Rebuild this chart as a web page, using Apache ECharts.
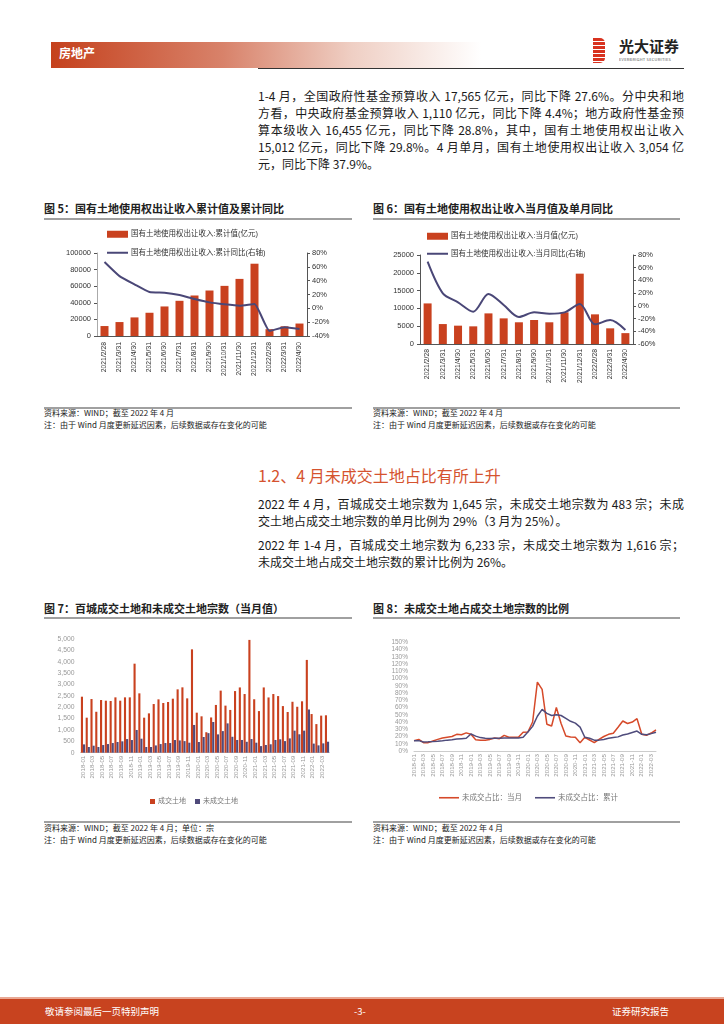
<!DOCTYPE html>
<html><head><meta charset="utf-8">
<script src="https://cdn.jsdelivr.net/npm/echarts@6/dist/echarts.min.js"></script>
<style>
html,body{margin:0;padding:0;background:#fff;}
body{width:724px;height:1024px;position:relative;overflow:hidden;font-family:"Noto Sans CJK SC","Liberation Sans",sans-serif;color:#1a1a1a;}
.abs{position:absolute;white-space:nowrap;}
.para{position:absolute;left:258px;width:426px;font-size:12px;}
.para div{height:17px;line-height:17px;white-space:nowrap;}
.j{text-align:justify;text-align-last:justify;}
.ctitle{position:absolute;font-size:11px;font-weight:bold;color:#222;line-height:12px;white-space:nowrap;}
.gline{position:absolute;height:2px;background:#a0a0a0;}
.src{position:absolute;font-size:8px;line-height:10px;color:#222;white-space:nowrap;}
#chart{position:absolute;left:0;top:0;width:724px;height:1024px;z-index:1;}
</style></head>
<body>
<div class="abs" style="left:51px;top:42px;width:430px;height:26px;background:linear-gradient(to right,#c5411d 0%,#d8826a 40%,#efcfc4 70%,#ffffff 100%);"></div>
<div class="abs" style="left:59px;top:45px;font-size:12px;line-height:16px;font-weight:bold;color:#fff;">房地产</div>
<div class="abs" style="left:593px;top:38px;width:12px;height:25px;background:repeating-linear-gradient(to bottom,#d8321f 0px,#d8321f 3px,#fff 3px,#fff 4px);border-radius:0 5px 5px 0;"></div>
<div class="abs" style="left:619px;top:37px;font-size:15px;line-height:18px;font-weight:bold;color:#222;">光大证券</div>
<div class="abs" style="left:619px;top:57px;font-size:8px;line-height:8px;color:#555;transform:scale(0.5);transform-origin:0 0;letter-spacing:0.5px;">EVERBRIGHT SECURITIES</div>
<div class="abs" style="left:258px;top:67.5px;width:426px;height:1.5px;background:#333;"></div>

<div class="para" style="top:86.5px;">
<div class="j">1-4 月，全国政府性基金预算收入 17,565 亿元，同比下降 27.6%。分中央和地</div>
<div class="j">方看，中央政府基金预算收入 1,110 亿元，同比下降 4.4%；地方政府性基金预</div>
<div class="j">算本级收入 16,455 亿元，同比下降 28.8%，其中，国有土地使用权出让收入</div>
<div class="j">15,012 亿元，同比下降 29.8%。4 月单月，国有土地使用权出让收入 3,054 亿</div>
<div>元，同比下降 37.9%。</div>
</div>

<div class="ctitle" style="left:44px;top:202px;">图 5：国有土地使用权出让收入累计值及累计同比</div>
<div class="gline" style="left:44px;top:218px;width:308px;"></div>
<div class="ctitle" style="left:373px;top:202px;">图 6：国有土地使用权出让收入当月值及单月同比</div>
<div class="gline" style="left:373px;top:218px;width:307px;"></div>

<div class="gline" style="left:44px;top:407px;width:308px;"></div>
<div class="src" style="left:44px;top:408px;">资料来源：WIND；截至 2022 年 4 月</div>
<div class="src" style="left:44px;top:420px;">注：由于 Wind 月度更新延迟因素，后续数据或存在变化的可能</div>
<div class="gline" style="left:373px;top:407px;width:307px;"></div>
<div class="src" style="left:373px;top:408px;">资料来源：WIND；截至 2022 年 4 月</div>
<div class="src" style="left:373px;top:420px;">注：由于 Wind 月度更新延迟因素，后续数据或存在变化的可能</div>

<div class="abs" style="left:258px;top:465px;font-size:16px;line-height:20px;color:#d5532f;">1.2、4 月未成交土地占比有所上升</div>
<div class="para" style="top:494.5px;">
<div class="j">2022 年 4 月，百城成交土地宗数为 1,645 宗，未成交土地宗数为 483 宗；未成</div>
<div>交土地占成交土地宗数的单月比例为 29%（3 月为 25%）。</div>
</div>
<div class="para" style="top:535.5px;">
<div class="j">2022 年 1-4 月，百城成交土地宗数为 6,233 宗，未成交土地宗数为 1,616 宗；</div>
<div>未成交土地占成交土地宗数的累计比例为 26%。</div>
</div>

<div class="ctitle" style="left:44px;top:602px;">图 7：百城成交土地和未成交土地宗数（当月值）</div>
<div class="gline" style="left:44px;top:617px;width:308px;"></div>
<div class="ctitle" style="left:373px;top:602px;">图 8：未成交土地占成交土地宗数的比例</div>
<div class="gline" style="left:373px;top:617px;width:307px;"></div>

<div class="gline" style="left:44px;top:821px;width:308px;"></div>
<div class="src" style="left:44px;top:823px;">资料来源：WIND；截至 2022 年 4 月；单位：宗</div>
<div class="src" style="left:44px;top:835px;">注：由于 Wind 月度更新延迟因素，后续数据或存在变化的可能</div>
<div class="gline" style="left:373px;top:821px;width:307px;"></div>
<div class="src" style="left:373px;top:823px;">资料来源：WIND；截至 2022 年 4 月</div>
<div class="src" style="left:373px;top:835px;">注：由于 Wind 月度更新延迟因素，后续数据或存在变化的可能</div>

<div class="abs" style="left:0;top:997px;width:724px;height:2px;background:#e9a894;"></div>
<div class="abs" style="left:0;top:999px;width:724px;height:25px;background:#c8431f;"></div>
<div class="abs" style="left:45px;top:1004px;font-size:9.5px;line-height:14px;color:#fff;">敬请参阅最后一页特别声明</div>
<div class="abs" style="left:354px;top:1004px;font-size:9.5px;line-height:14px;color:#fff;">-3-</div>
<div class="abs" style="left:612px;top:1004px;font-size:9.5px;line-height:14px;color:#fff;">证券研究报告</div>

<div id="chart"></div>
<script>
// ---------- data ----------
const cat5 = ['2021/2/28','2021/3/31','2021/4/30','2021/5/31','2021/6/30','2021/7/31','2021/8/31','2021/9/30','2021/10/31','2021/11/30','2021/12/31','2022/2/28','2022/3/31','2022/4/30'];
const cumValue = [12000,16800,22400,28000,35600,42400,48800,54800,60400,68800,87100,8200,11700,15012];
const cumYoY = [67,46.6,34.6,23.5,22.6,19.2,13.4,8.6,5.8,3.8,6.2,-32.6,-27.4,-29.8];

const cat6 = ['2021/2/28','2021/3/31','2021/4/30','2021/5/31','2021/6/30','2021/7/31','2021/8/31','2021/9/30','2021/10/31','2021/11/30','2021/12/31','2022/2/28','2022/3/31','2022/4/30'];
const monValue = [11400,5600,5150,4960,8600,7200,6100,6740,6100,8900,19760,8330,4400,3054];
const monYoY = [69.5,19.7,5.6,-9.1,18.7,1.4,-17.5,-10.2,-12.3,-10.2,2.9,-29.1,-22.3,-37.9];

const months = [
 '2018-01','2018-02','2018-03','2018-04','2018-05','2018-06','2018-07','2018-08','2018-09','2018-10','2018-11','2018-12',
 '2019-01','2019-02','2019-03','2019-04','2019-05','2019-06','2019-07','2019-08','2019-09','2019-10','2019-11','2019-12',
 '2020-01','2020-02','2020-03','2020-04','2020-05','2020-06','2020-07','2020-08','2020-09','2020-10','2020-11','2020-12',
 '2021-01','2021-02','2021-03','2021-04','2021-05','2021-06','2021-07','2021-08','2021-09','2021-10','2021-11','2021-12',
 '2022-01','2022-02','2022-03','2022-04'];
const dealLand = [
 2463,1540,2360,1800,2317,2287,2273,2434,2287,2434,2434,3915,
 2610,1540,1730,2140,2346,2185,2230,2375,2786,2874,2390,4545,
 1760,1600,900,1550,2100,2730,2070,1880,2710,2870,2580,4960,
 2350,1830,2870,2430,2580,2490,2050,1790,2240,2020,2260,4080,
 1700,1258,1630,1645];
const unsoldLand = [
 366,250,308,250,337,380,425,470,500,600,557,1000,
 616,250,250,320,380,425,425,557,540,510,440,1220,
 470,690,860,1350,806,950,1290,700,560,560,480,600,
 440,290,340,370,560,590,510,630,970,810,970,1900,
 400,323,410,483];
const ratioMonth = [
 14.3,16,11.5,11.5,13.8,16,18,19,20,23,22.5,25,
 23,15.6,14.7,14.7,16,18,17,21.6,19,19,19,25.8,
 26.2,40,95,85,37,34.5,60,38,20.7,19.3,18.9,11.5,
 18.9,15.2,11.5,16,20,23,24.4,32.7,41.4,38,40,44.6,
 23,21.6,24.8,29];
const ratioCum = [
 14,14.3,12.4,12.6,13,13.5,14.2,15,15.6,16.5,17,17.5,
 23.5,20.5,18.5,17.5,17.3,17.5,17.5,18,18,18,18,19,
 26.2,34,48,57.5,52,49,50,49,45,41,38.5,33,
 18.9,17.5,15,15,16,17.5,18.5,19.5,22,23.5,25.5,27.5,
 23,22.5,24,26];

const n5a='国有土地使用权出让收入:累计值(亿元)', n5b='国有土地使用权出让收入:累计同比(右轴)';
const n6a='国有土地使用权出让收入:当月值(亿元)', n6b='国有土地使用权出让收入:当月同比(右轴)';
const n7a='成交土地', n7b='未成交土地';
const n8a='未成交占比：当月', n8b='未成交占比：累计';

// ---------- styles ----------
const RED='#c9411f', NAVY='#4a4777', RED8='#d64a2a', NAVY8='#4f4c7c';
const FONT='"Liberation Sans","Noto Sans CJK SC",sans-serif';
const lab = (extra)=>Object.assign({fontSize:7,color:'#333',fontFamily:FONT},extra||{});
const plain = v => String(v);
const fmtThousand = v => v.toLocaleString('en-US');

const chart = echarts.init(document.getElementById('chart'), null, {renderer:'canvas'});

function leg(name, left, top, w, h, fs, color){
  return {left:left, top:top, itemWidth:w, itemHeight:h, padding:0, itemGap:0,
    textStyle:{fontSize:fs,color:color,padding:[0,0,0,-2]}, data:[{name:name,icon:'rect'}]};
}

chart.setOption({
  animation:false,
  textStyle:{fontFamily:FONT},
  grid:[
    {left:97, top:253, width:210, height:83},
    {left:420, top:255, width:213, height:89},
    {left:80.6, top:639, width:248.8, height:113.7},
    {left:414, top:642.3, width:242, height:108.7}
  ],
  legend:[
    leg(n5a,107,230.5,21,7,7.5,'#333'),
    leg(n5b,107,249,21,2,7.5,'#333'),
    leg(n6a,427,232.5,21,7,7.5,'#333'),
    leg(n6b,427,250,21,2,7.5,'#333'),
    leg(n7a,150,798,5,5,7,'#777'),
    leg(n7b,195,798,5,5,7,'#777'),
    leg(n8a,439,794,20,1.6,7.5,'#777'),
    leg(n8b,535,794,20,1.6,7.5,'#777')
  ],
  xAxis:[
    {gridIndex:0, type:'category', data:cat5, axisLine:{lineStyle:{color:'#555'}},
     axisTick:{length:3,lineStyle:{color:'#555'}}, axisLabel:lab({rotate:90,interval:0,margin:6,fontSize:6.8})},
    {gridIndex:1, type:'category', data:cat6, axisLine:{lineStyle:{color:'#555'}},
     axisTick:{length:3,lineStyle:{color:'#555'}}, axisLabel:lab({rotate:90,interval:0,margin:5,fontSize:6.8})},
    {gridIndex:2, type:'category', data:months, axisLine:{lineStyle:{color:'#ccc'}},
     axisTick:{show:false}, axisLabel:lab({rotate:90,interval:1,margin:3,fontSize:6.2,color:'#999'})},
    {gridIndex:3, type:'category', data:months, boundaryGap:false, axisLine:{lineStyle:{color:'#ccc'}},
     axisTick:{show:false}, axisLabel:lab({rotate:90,interval:1,margin:3,fontSize:6.2,color:'#999'})}
  ],
  yAxis:[
    {gridIndex:0, type:'value', min:0, max:100000, interval:20000, splitLine:{show:false},
     axisLine:{show:true,lineStyle:{color:'#aaa'}}, axisTick:{show:true,length:3,lineStyle:{color:'#555'}},
     axisLabel:lab({fontSize:7.5,margin:6,formatter:plain})},
    {gridIndex:0, type:'value', position:'right', min:-40, max:80, interval:20, splitLine:{show:false},
     axisLine:{show:true,lineStyle:{color:'#555'}}, axisTick:{show:true,length:3,lineStyle:{color:'#555'}},
     axisLabel:lab({fontSize:7.5,margin:5,formatter:'{value}%'})},
    {gridIndex:1, type:'value', min:0, max:25000, interval:5000, splitLine:{show:false},
     axisLine:{show:true,lineStyle:{color:'#555'}}, axisTick:{show:true,length:3,lineStyle:{color:'#555'}},
     axisLabel:lab({fontSize:7.5,margin:6,formatter:plain})},
    {gridIndex:1, type:'value', position:'right', min:-60, max:80, interval:20, splitLine:{show:false},
     axisLine:{show:true,lineStyle:{color:'#555'}}, axisTick:{show:true,length:3,lineStyle:{color:'#555'}},
     axisLabel:lab({fontSize:7.5,margin:5,formatter:'{value}%'})},
    {gridIndex:2, type:'value', min:0, max:5000, interval:500, splitLine:{show:false},
     axisLine:{show:false}, axisTick:{show:false},
     axisLabel:lab({fontSize:6.8,color:'#999',margin:6,formatter:fmtThousand})},
    {gridIndex:3, type:'value', min:0, max:150, interval:10, splitLine:{show:false},
     axisLine:{show:false}, axisTick:{show:false},
     axisLabel:lab({fontSize:6.5,color:'#999',margin:6,formatter:'{value}%'})}
  ],
  series:[
    {name:n5a, type:'bar', xAxisIndex:0, yAxisIndex:0, data:cumValue, barWidth:8, itemStyle:{color:RED}},
    {name:n5b, type:'line', xAxisIndex:0, yAxisIndex:1, data:cumYoY, symbol:'none', smooth:0.15,
     lineStyle:{width:2,color:NAVY}, itemStyle:{color:NAVY}},
    {name:n6a, type:'bar', xAxisIndex:1, yAxisIndex:2, data:monValue, barWidth:8, itemStyle:{color:RED}},
    {name:n6b, type:'line', xAxisIndex:1, yAxisIndex:3, data:monYoY, symbol:'none', smooth:0.3,
     lineStyle:{width:2,color:NAVY}, itemStyle:{color:NAVY}},
    {name:n7a, type:'bar', xAxisIndex:2, yAxisIndex:4, data:dealLand, barGap:'0%', barCategoryGap:'12%', itemStyle:{color:RED}},
    {name:n7b, type:'bar', xAxisIndex:2, yAxisIndex:4, data:unsoldLand, barGap:'0%', barCategoryGap:'12%', itemStyle:{color:'#4f4a7a'}},
    {name:n8a, type:'line', xAxisIndex:3, yAxisIndex:5, data:ratioMonth, symbol:'none',
     lineStyle:{width:1.5,color:RED8}, itemStyle:{color:RED8}},
    {name:n8b, type:'line', xAxisIndex:3, yAxisIndex:5, data:ratioCum, symbol:'none',
     lineStyle:{width:1.5,color:NAVY8}, itemStyle:{color:NAVY8}}
  ]
});
</script>
</body></html>
